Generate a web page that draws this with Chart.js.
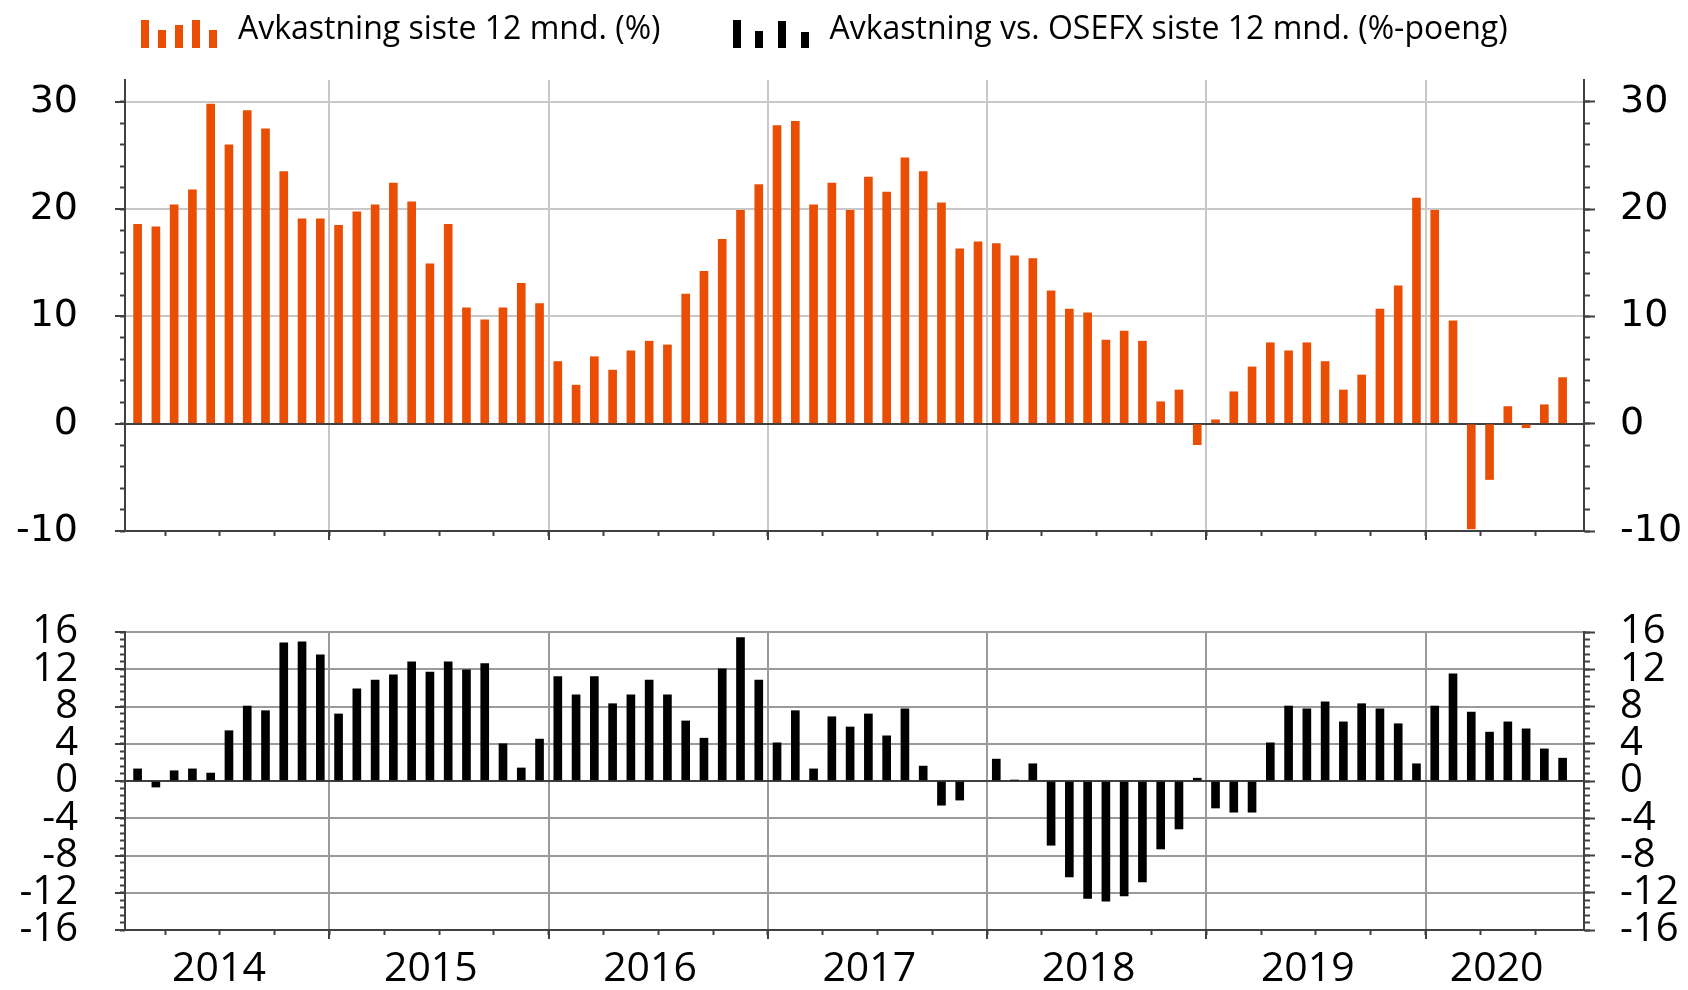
<!DOCTYPE html>
<html>
<head>
<meta charset="utf-8">
<title>Avkastning siste 12 mnd.</title>
<script src="https://cdn.jsdelivr.net/npm/chart.js@4.4.1/dist/chart.umd.min.js"></script>
<style>
  body { margin: 0; background: #fff; }
  #wrap { position: relative; width: 1688px; height: 990px; overflow: hidden; }
  #wrap canvas { position: absolute; left: 0; }
  #legend { position: absolute; left: 141px; top: 0; height: 60px; display: flex; z-index: 2; }
  .legend-icon { margin-top: 19.5px; height: 28px; display: flex; align-items: flex-end; }
  .legend-icon span { display: block; width: 8px; }
  .legend-text { margin: 10.6px 72px 0 21px; white-space: nowrap; color: #000;
                 font: 32px/32px 'Open Sans', sans-serif; }
</style>
</head>
<body>
<div id="wrap">
  <canvas id="topChart" width="1688" height="560" style="top:0"></canvas>
  <canvas id="bottomChart" width="1688" height="430" style="top:560px"></canvas>
  <div id="legend"></div>
</div>
<script>
// monthly observations, Feb 2014 - Aug 2020
const months = [
  '2014-02','2014-03','2014-04','2014-05','2014-06','2014-07','2014-08','2014-09','2014-10','2014-11','2014-12',
  '2015-01','2015-02','2015-03','2015-04','2015-05','2015-06','2015-07','2015-08','2015-09','2015-10','2015-11','2015-12',
  '2016-01','2016-02','2016-03','2016-04','2016-05','2016-06','2016-07','2016-08','2016-09','2016-10','2016-11','2016-12',
  '2017-01','2017-02','2017-03','2017-04','2017-05','2017-06','2017-07','2017-08','2017-09','2017-10','2017-11','2017-12',
  '2018-01','2018-02','2018-03','2018-04','2018-05','2018-06','2018-07','2018-08','2018-09','2018-10','2018-11','2018-12',
  '2019-01','2019-02','2019-03','2019-04','2019-05','2019-06','2019-07','2019-08','2019-09','2019-10','2019-11','2019-12',
  '2020-01','2020-02','2020-03','2020-04','2020-05','2020-06','2020-07','2020-08'
];

// Avkastning siste 12 mnd. (%)
const returns12m = [
  18.6, 18.35, 20.4, 21.8, 29.8, 26.0, 29.2, 27.5, 23.5, 19.1, 19.1,
  18.5, 19.75, 20.4, 22.45, 20.7, 14.9, 18.6, 10.8, 9.7, 10.8, 13.1, 11.2,
  5.8, 3.6, 6.25, 5.0, 6.8, 7.7, 7.35, 12.1, 14.2, 17.2, 19.9, 22.3,
  27.8, 28.2, 20.4, 22.45, 19.9, 23.0, 21.6, 24.8, 23.5, 20.6, 16.3, 16.95,
  16.8, 15.65, 15.4, 12.4, 10.7, 10.35, 7.8, 8.65, 7.7, 2.05, 3.15, -1.95,
  0.37, 2.98, 5.3, 7.55, 6.8, 7.55, 5.8, 3.15, 4.55, 10.7, 12.85, 21.05,
  19.9, 9.6, -9.8, -5.2, 1.6, -0.37, 1.77, 4.3
];

// Avkastning vs. OSEFX siste 12 mnd. (%-poeng)
const excessVsOsefx = [
  1.3, -0.65, 1.1, 1.3, 0.85, 5.4, 8.05, 7.55, 14.85, 14.95, 13.55,
  7.2, 9.9, 10.85, 11.4, 12.8, 11.7, 12.8, 11.95, 12.6, 4.0, 1.4, 4.5,
  11.2, 9.25, 11.2, 8.3, 9.25, 10.85, 9.25, 6.45, 4.6, 12.05, 15.4, 10.85,
  4.1, 7.55, 1.3, 6.9, 5.8, 7.2, 4.85, 7.75, 1.6, -2.6, -2.05, null,
  2.35, 0.1, 1.85, -6.9, -10.3, -12.6, -12.9, -12.35, -10.85, -7.3, -5.15, 0.3,
  -2.9, -3.35, -3.35, 4.1, 8.05, 7.75, 8.5, 6.35, 8.3, 7.75, 6.15, 1.85,
  8.05, 11.5, 7.4, 5.25, 6.35, 5.6, 3.45, 2.45
];

const yearLabels = ['2014', '2015', '2016', '2017', '2018', '2019', '2020'];
const topYTicks = [-10, 0, 10, 20, 30];
const bottomYTicks = [-16, -12, -8, -4, 0, 4, 8, 12, 16];

const ORANGE = '#e94e04';
const BLACK = '#000000';
const INK = '#404040';
const X_MIN = 0.81;   // months after 1 Jan 2014
const X_MAX = 80.67;

// month key -> months after 1 Jan 2014, bar sits mid-month
function monthPos(key) {
  const [y, m] = key.split('-').map(Number);
  return (y - 2014) * 12 + (m - 1) + 0.5;
}

// year starts and quarter starts inside the axis range
const yearStarts = yearLabels.map(y => (Number(y) - 2014) * 12).filter(v => v > X_MIN && v < X_MAX);
const quarterStarts = [];
for (let v = 3; v < X_MAX; v += 3) if (v > X_MIN) quarterStarts.push(v);

// year labels centred on the visible part of each year
const yearLabelPos = yearLabels.map(label => {
  const y = Number(label);
  const start = Math.max((y - 2014) * 12, X_MIN);
  const end = Math.min((y - 2013) * 12, X_MAX);
  return (start + end) / 2 - 0.45;
});

function setWidth(w) {
  return s => { s.width = w; s.paddingTop = 0; s.paddingBottom = 0; };
}

function yAxes(o) {
  const common = { type: 'linear', min: o.min, max: o.max };
  const last = o.ticks[o.ticks.length - 1];
  const majorTicks = s => { s.ticks = o.ticks.map(v => ({ value: v })); };
  const minorTicks = s => { s.ticks = s.ticks.filter(t => t.value <= last + 1e-6); };
  const font = { family: o.family, size: o.size };
  return {
    y: {
      ...common, position: 'left', weight: 1,
      afterBuildTicks: majorTicks, afterFit: setWidth(125),
      grid: {
        color: c => c.tick.value === 0 ? INK : (c.tick.value === o.min ? 'transparent' : o.grid),
        lineWidth: 2, tickLength: 10, tickColor: INK, tickWidth: 2
      },
      border: { color: INK, width: 2 },
      ticks: { padding: 37, autoSkip: false, color: '#000', font: font }
    },
    yMinor: {
      ...common, position: 'left', weight: 0,
      afterBuildTicks: minorTicks, afterFit: setWidth(0),
      grid: { drawOnChartArea: false, tickLength: 5, tickColor: INK, tickWidth: 2 },
      border: { display: false },
      ticks: { display: false, stepSize: o.minorStep, includeBounds: false }
    },
    yRight: {
      ...common, position: 'right', weight: 1,
      afterBuildTicks: majorTicks, afterFit: setWidth(104),
      grid: { drawOnChartArea: false, tickLength: 11, tickColor: INK, tickWidth: 2 },
      border: { color: INK, width: 2 },
      ticks: { padding: 25, autoSkip: false, color: '#000', font: font }
    },
    yRightMinor: {
      ...common, position: 'right', weight: 0,
      afterBuildTicks: minorTicks, afterFit: setWidth(0),
      grid: { drawOnChartArea: false, tickLength: 6, tickColor: INK, tickWidth: 2 },
      border: { display: false },
      ticks: { display: false, stepSize: o.minorStep, includeBounds: false }
    }
  };
}

function xAxes(gridColor, labelHeight) {
  const common = { type: 'linear', min: X_MIN, max: X_MAX, offset: false };
  const axes = {
    x: {
      ...common, position: 'bottom', weight: 1,
      afterBuildTicks: s => { s.ticks = yearStarts.map(v => ({ value: v })); },
      afterFit: s => { s.height = labelHeight ? 0 : 29; },
      grid: { offset: false, color: gridColor, lineWidth: 2, tickLength: 9, tickColor: INK, tickWidth: 2 },
      border: { color: INK, width: 2 },
      ticks: { display: false }
    },
    xMinor: {
      ...common, position: 'bottom', weight: 0,
      afterBuildTicks: s => { s.ticks = quarterStarts.map(v => ({ value: v })); },
      afterFit: s => { s.height = 0; },
      grid: { offset: false, drawOnChartArea: false, tickLength: 5, tickColor: INK, tickWidth: 2 },
      border: { display: false },
      ticks: { display: false }
    }
  };
  if (labelHeight) {
    axes.xLabels = {
      ...common, position: 'bottom', weight: 2,
      afterBuildTicks: s => { s.ticks = yearLabelPos.map(v => ({ value: v })); },
      afterFit: s => { s.height = labelHeight; s.paddingLeft = 0; s.paddingRight = 0; },
      grid: { display: false, drawTicks: false },
      border: { display: false },
      ticks: {
        autoSkip: false, maxRotation: 0, padding: 15, color: '#000',
        font: { family: 'Open Sans', size: 41 },
        callback: (v, i) => yearLabels[i]
      }
    };
  }
  return axes;
}

const baseOptions = {
  responsive: false,
  animation: false,
  plugins: { legend: { display: false }, tooltip: { enabled: false } }
};

const topChart = new Chart(document.getElementById('topChart'), {
  type: 'bar',
  data: {
    datasets: [{
      label: 'Avkastning siste 12 mnd. (%)',
      data: months.map((m, i) => ({ x: monthPos(m), y: returns12m[i] })),
      backgroundColor: ORANGE,
      barThickness: 8
    }]
  },
  options: {
    ...baseOptions,
    layout: { padding: { top: 80 } },
    scales: {
      ...xAxes('#c8c8c8', 0),
      ...yAxes({ min: -10, max: 32.05, ticks: topYTicks, minorStep: 2,
                 family: 'DejaVu Sans', size: 38, grid: '#c8c8c8' })
    }
  }
});

const bottomChart = new Chart(document.getElementById('bottomChart'), {
  type: 'bar',
  data: {
    datasets: [{
      label: 'Avkastning vs. OSEFX siste 12 mnd. (%-poeng)',
      data: months.map((m, i) => ({ x: monthPos(m), y: excessVsOsefx[i] })),
      backgroundColor: BLACK,
      barThickness: 8
    }]
  },
  options: {
    ...baseOptions,
    layout: { padding: { top: 72 } },
    scales: {
      ...xAxes('#9a9a9a', 60),
      ...yAxes({ min: -16, max: 16, ticks: bottomYTicks, minorStep: 0.8,
                 family: 'Open Sans', size: 40, grid: '#9a9a9a' })
    }
  }
});

// shared legend above both panels
const legendEntries = [
  { chart: topChart, bars: [28, 18, 22.5, 28, 18] },
  { chart: bottomChart, bars: [28, 17, 27, 16] }
];
const legendEl = document.getElementById('legend');
legendEntries.forEach(entry => {
  const ds = entry.chart.data.datasets[0];
  const icon = document.createElement('div');
  icon.className = 'legend-icon';
  icon.style.gap = ((76 - entry.bars.length * 8) / (entry.bars.length - 1)) + 'px';
  entry.bars.forEach(h => {
    const bar = document.createElement('span');
    bar.style.height = h + 'px';
    bar.style.background = ds.backgroundColor;
    icon.appendChild(bar);
  });
  const text = document.createElement('span');
  text.className = 'legend-text';
  text.textContent = ds.label;
  legendEl.appendChild(icon);
  legendEl.appendChild(text);
});
</script>
</body>
</html>
